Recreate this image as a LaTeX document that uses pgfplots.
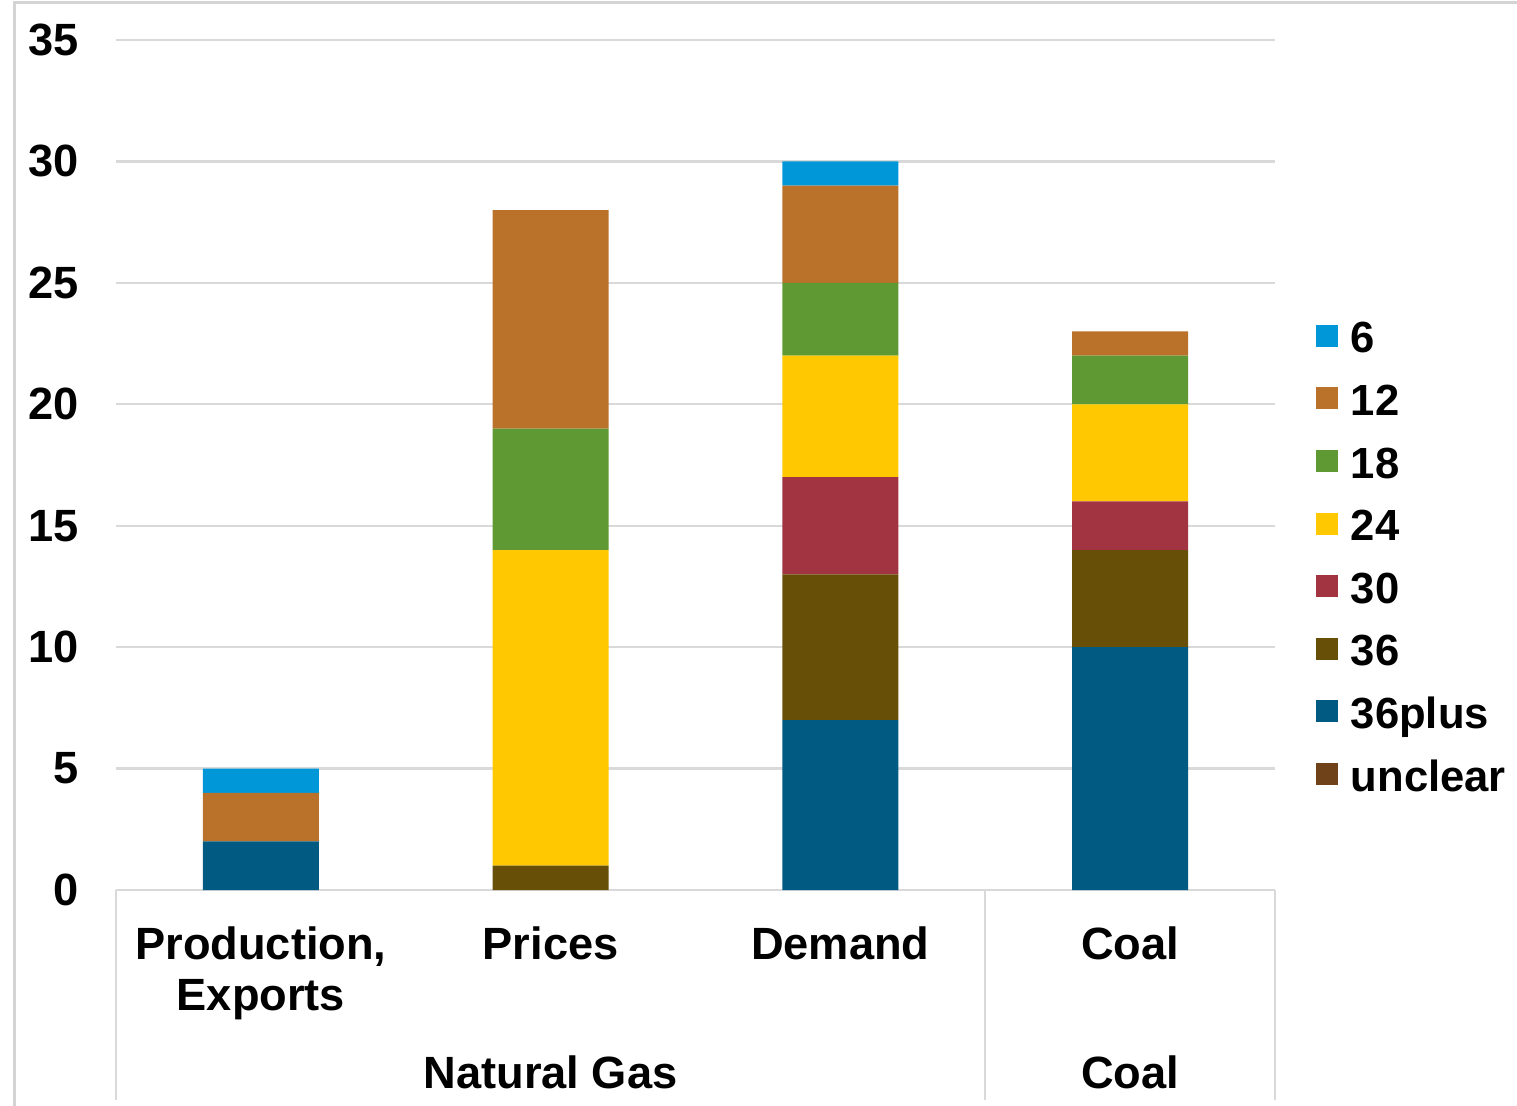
\documentclass[border=0pt]{standalone}
\usepackage{pgfplots}
\pgfplotsset{compat=1.18}
\usepackage{fontspec}
\setmainfont{Liberation Sans}
\definecolor{c6}{HTML}{0097D9}
\definecolor{c12}{HTML}{BA722A}
\definecolor{c18}{HTML}{5E9933}
\definecolor{c24}{HTML}{FFC800}
\definecolor{c30}{HTML}{A23340}
\definecolor{c36}{HTML}{684F08}
\definecolor{c36plus}{HTML}{005A82}
\definecolor{cunclear}{HTML}{6F4219}
\definecolor{gridc}{HTML}{D9D9D9}
\definecolor{framec}{HTML}{D4D4D4}
\begin{document}
\begin{tikzpicture}[x=0.25pt,y=0.25pt]
\useasboundingbox (0,0) rectangle (1517,1105);
\draw[color=framec, line width=0.75pt] (14,-20) -- (14,1102) -- (1600,1102);
\begin{axis}[
  at={(29pt,53.75pt)}, anchor=south west,
  scale only axis, width=289.75pt, height=212.5pt,
  ybar stacked, bar width=29pt,
  xmin=-0.5, xmax=3.5, ymin=0, ymax=35,
  xtick={0,1,2,3},
  xticklabels={{Production,\\Exports},{Prices},{Demand},{Coal}},
  ytick={0,5,...,35},
  ymajorgrids, grid style={color=gridc, line width=0.6pt},
  axis line style={draw=none},
  major tick length=0pt, tick style={draw=none},
  /pgf/number format/assume math mode=true,
  every tick label/.append style={font=\bfseries\fontsize{11.3}{12.75}\selectfont},
  yticklabel style={xshift=-5.7pt},
  xticklabel style={align=center, anchor=north, yshift=-5.6pt},
  legend style={at={(1.0345,0.6715)}, anchor=north west, draw=none, fill=none,
    inner sep=0pt, row sep=5.45pt,
    font=\bfseries\fontsize{10.9}{12}\selectfont,
    nodes={inner xsep=3.25pt, inner ysep=0pt, text height=8.2pt, text depth=2pt}},
  legend cell align=left, reverse legend,
  legend image code/.code={\fill[#1] (0pt,-1.58pt) rectangle (5.5pt,3.92pt);},
]
\addplot[fill=cunclear, draw=none] coordinates {(0,0) (1,0) (2,0) (3,0)};
\addplot[fill=c36plus, draw=none] coordinates {(0,2) (1,0) (2,7) (3,10)};
\addplot[fill=c36, draw=none] coordinates {(0,0) (1,1) (2,6) (3,4)};
\addplot[fill=c30, draw=none] coordinates {(0,0) (1,0) (2,4) (3,2)};
\addplot[fill=c24, draw=none] coordinates {(0,0) (1,13) (2,5) (3,4)};
\addplot[fill=c18, draw=none] coordinates {(0,0) (1,5) (2,3) (3,2)};
\addplot[fill=c12, draw=none] coordinates {(0,2) (1,9) (2,4) (3,1)};
\addplot[fill=c6, draw=none] coordinates {(0,1) (1,0) (2,1) (3,0)};
\legend{unclear,36plus,36,30,24,18,12,6}
\end{axis}
\draw[gridc, line width=0.6pt] (116,215) -- (116,5);
\draw[gridc, line width=0.6pt] (985,215) -- (985,5);
\draw[gridc, line width=0.6pt] (1275,215) -- (1275,5);
\node[anchor=base, font=\bfseries\fontsize{11.3}{12.75}\selectfont] at (550.5,17) {Natural Gas};
\node[anchor=base, font=\bfseries\fontsize{11.3}{12.75}\selectfont] at (1130,17) {Coal};
\end{tikzpicture}
\end{document}
